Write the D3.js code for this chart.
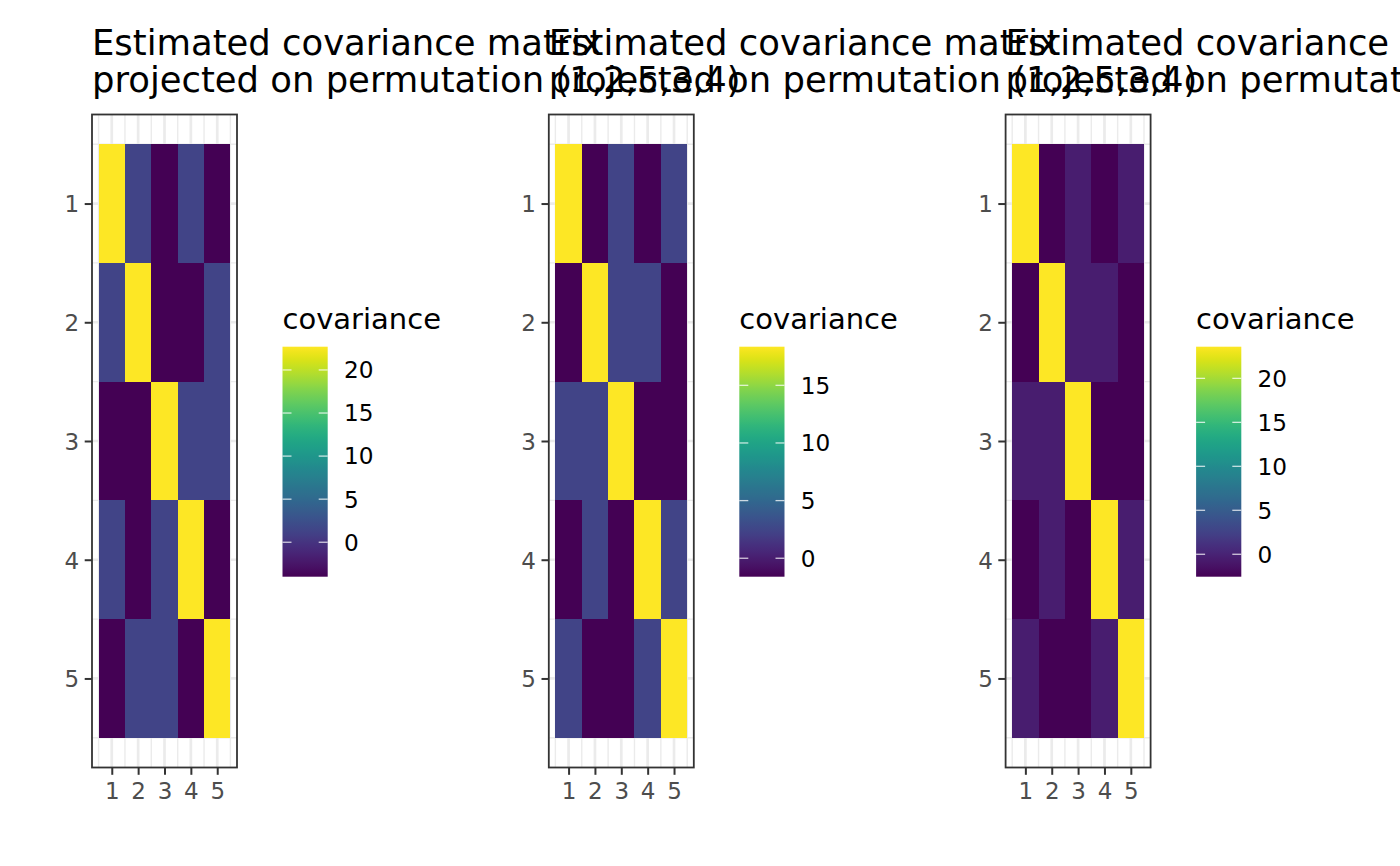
<!DOCTYPE html>
<html>
<head>
<meta charset="utf-8">
<script src="https://cdn.jsdelivr.net/npm/d3@7"></script>
<style>
  html, body { margin: 0; padding: 0; background: #ffffff; }
  svg { display: block; }
  text { font-family: "DejaVu Sans", sans-serif; }
</style>
</head>
<body>
<svg id="chart" width="1400" height="866"></svg>
<script>
// ---- data ----
const rowLabels = [1, 2, 3, 4, 5];
const colLabels = [1, 2, 3, 4, 5];
const titleLines = ["Estimated covariance matrix", "projected on permutation (1,2,5,3,4)"];
const legendTitle = "covariance";

const matrix1 = [
  [22.7, 1.35, -4.0, 1.35, -4.0],
  [1.35, 22.7, -4.0, -4.0, 1.35],
  [-4.0, -4.0, 22.7, 1.35, 1.35],
  [1.35, -4.0, 1.35, 22.7, -4.0],
  [-4.0, 1.35, 1.35, -4.0, 22.7]
];
const matrix2 = [
  [18.35, -1.6, 2.4, -1.6, 2.4],
  [-1.6, 18.35, 2.4, 2.4, -1.6],
  [2.4, 2.4, 18.35, -1.6, -1.6],
  [-1.6, 2.4, -1.6, 18.35, 2.4],
  [2.4, -1.6, -1.6, 2.4, 18.35]
];
const matrix3 = [
  [23.6, -2.55, -0.5, -2.55, -0.5],
  [-2.55, 23.6, -0.5, -0.5, -2.55],
  [-0.5, -0.5, 23.6, -2.55, -2.55],
  [-2.55, -0.5, -2.55, 23.6, -0.5],
  [-0.5, -2.55, -2.55, -0.5, 23.6]
];
const legendTicks1 = [0, 5, 10, 15, 20];
const legendTicks2 = [0, 5, 10, 15];
const legendTicks3 = [0, 5, 10, 15, 20];

const panels = [
  { m: matrix1, ticks: legendTicks1 },
  { m: matrix2, ticks: legendTicks2 },
  { m: matrix3, ticks: legendTicks3 }
];

// ---- layout ----
const svg = d3.select("#chart");
const panelStep = 456.8;
const P = { left: 92, right: 237, top: 114.5, bottom: 767.5 };
const LEG = { x: 282.5, w: 45.2, top: 346.7, bottom: 576.7 };
const titleSize = 35.4, axisSize = 23, legTitleSize = 29, legTextSize = 23.2;

panels.forEach((p, pi) => {
  const g = svg.append("g").attr("transform", `translate(${pi * panelStep},0)`);
  const cells = [];
  p.m.forEach((row, ri) => row.forEach((v, ci) => cells.push({ r: rowLabels[ri], c: colLabels[ci], v })));
  const ext = d3.extent(cells, d => d.v);
  const color = d3.scaleSequential(d3.interpolateViridis).domain(ext);

  const x = d3.scaleLinear().domain([0.25, 5.75]).range([P.left, P.right]);
  const y = d3.scaleLinear().domain([0.25, 5.75]).range([P.top, P.bottom]);

  // panel background
  g.append("rect").attr("x", P.left).attr("y", P.top)
    .attr("width", P.right - P.left).attr("height", P.bottom - P.top).attr("fill", "#ffffff");

  // grid
  const minor = d3.range(0.5, 6, 1);
  const major = colLabels;
  const grid = g.append("g");
  minor.forEach(v => {
    grid.append("line").attr("x1", x(v)).attr("x2", x(v)).attr("y1", P.top).attr("y2", P.bottom)
      .attr("stroke", "#EBEBEB").attr("stroke-width", 1.4);
    grid.append("line").attr("y1", y(v)).attr("y2", y(v)).attr("x1", P.left).attr("x2", P.right)
      .attr("stroke", "#EBEBEB").attr("stroke-width", 1.4);
  });
  major.forEach(v => {
    grid.append("line").attr("x1", x(v)).attr("x2", x(v)).attr("y1", P.top).attr("y2", P.bottom)
      .attr("stroke", "#EBEBEB").attr("stroke-width", 2.7);
    grid.append("line").attr("y1", y(v)).attr("y2", y(v)).attr("x1", P.left).attr("x2", P.right)
      .attr("stroke", "#EBEBEB").attr("stroke-width", 2.7);
  });

  // tiles
  g.append("g").selectAll("rect").data(cells).join("rect")
    .attr("x", d => x(d.c - 0.5))
    .attr("y", d => y(d.r - 0.5))
    .attr("width", d => x(d.c + 0.5) - x(d.c - 0.5))
    .attr("height", d => y(d.r + 0.5) - y(d.r - 0.5))
    .attr("fill", d => color(d.v))
    .attr("shape-rendering", "crispEdges");

  // border
  g.append("rect").attr("x", P.left).attr("y", P.top)
    .attr("width", P.right - P.left).attr("height", P.bottom - P.top)
    .attr("fill", "none").attr("stroke", "#333333").attr("stroke-width", 1.8);

  // axes
  const xAxis = d3.axisBottom(x).tickValues(colLabels).tickSize(7.3).tickPadding(6).tickFormat(d3.format("d"));
  const yAxis = d3.axisLeft(y).tickValues(rowLabels).tickSize(7.3).tickPadding(5.5).tickFormat(d3.format("d"));
  const gx = g.append("g").attr("transform", `translate(0,${P.bottom})`).call(xAxis);
  const gy = g.append("g").attr("transform", `translate(${P.left},0)`).call(yAxis);
  [gx, gy].forEach(ax => {
    ax.select(".domain").remove();
    ax.selectAll(".tick line").attr("stroke", "#333333").attr("stroke-width", 2);
    ax.selectAll(".tick text").attr("fill", "#4D4D4D").attr("font-size", axisSize)
      .attr("font-family", "DejaVu Sans, sans-serif");
  });
  gx.selectAll(".tick text").attr("dy", null).attr("y", 0).attr("dominant-baseline", "auto")
    .attr("transform", "translate(0,31)");
  gy.selectAll(".tick text").attr("dy", "0.36em");

  // title
  const t = g.append("text").attr("x", P.left).attr("y", 55).attr("font-size", titleSize).attr("fill", "#000");
  titleLines.forEach((line, li) => {
    t.append("tspan").attr("x", P.left).attr("y", 55 + li * 36.7).text(line);
  });

  // legend
  g.append("text").attr("x", LEG.x).attr("y", 329.3).attr("font-size", legTitleSize).attr("fill", "#000").text(legendTitle);
  const gradId = "grad" + pi;
  const grad = svg.append("defs").append("linearGradient").attr("id", gradId)
    .attr("x1", 0).attr("y1", 1).attr("x2", 0).attr("y2", 0);
  d3.range(0, 1.0001, 0.02).forEach(s => {
    grad.append("stop").attr("offset", s).attr("stop-color", color(ext[0] + s * (ext[1] - ext[0])));
  });
  g.append("rect").attr("x", LEG.x).attr("y", LEG.top).attr("width", LEG.w).attr("height", LEG.bottom - LEG.top)
    .attr("fill", `url(#${gradId})`);
  const ly = d3.scaleLinear().domain(ext).range([LEG.bottom, LEG.top]);
  const lt = g.append("g");
  p.ticks.forEach(v => {
    lt.append("line").attr("x1", LEG.x).attr("x2", LEG.x + 9).attr("y1", ly(v)).attr("y2", ly(v))
      .attr("stroke", "#ffffff").attr("stroke-opacity", 0.75).attr("stroke-width", 1.3);
    lt.append("line").attr("x1", LEG.x + LEG.w - 9).attr("x2", LEG.x + LEG.w).attr("y1", ly(v)).attr("y2", ly(v))
      .attr("stroke", "#ffffff").attr("stroke-opacity", 0.75).attr("stroke-width", 1.3);
    lt.append("text").attr("x", 344).attr("y", ly(v)).attr("dy", "0.36em")
      .attr("font-size", legTextSize).attr("fill", "#000").text(v);
  });
});
</script>
</body>
</html>
